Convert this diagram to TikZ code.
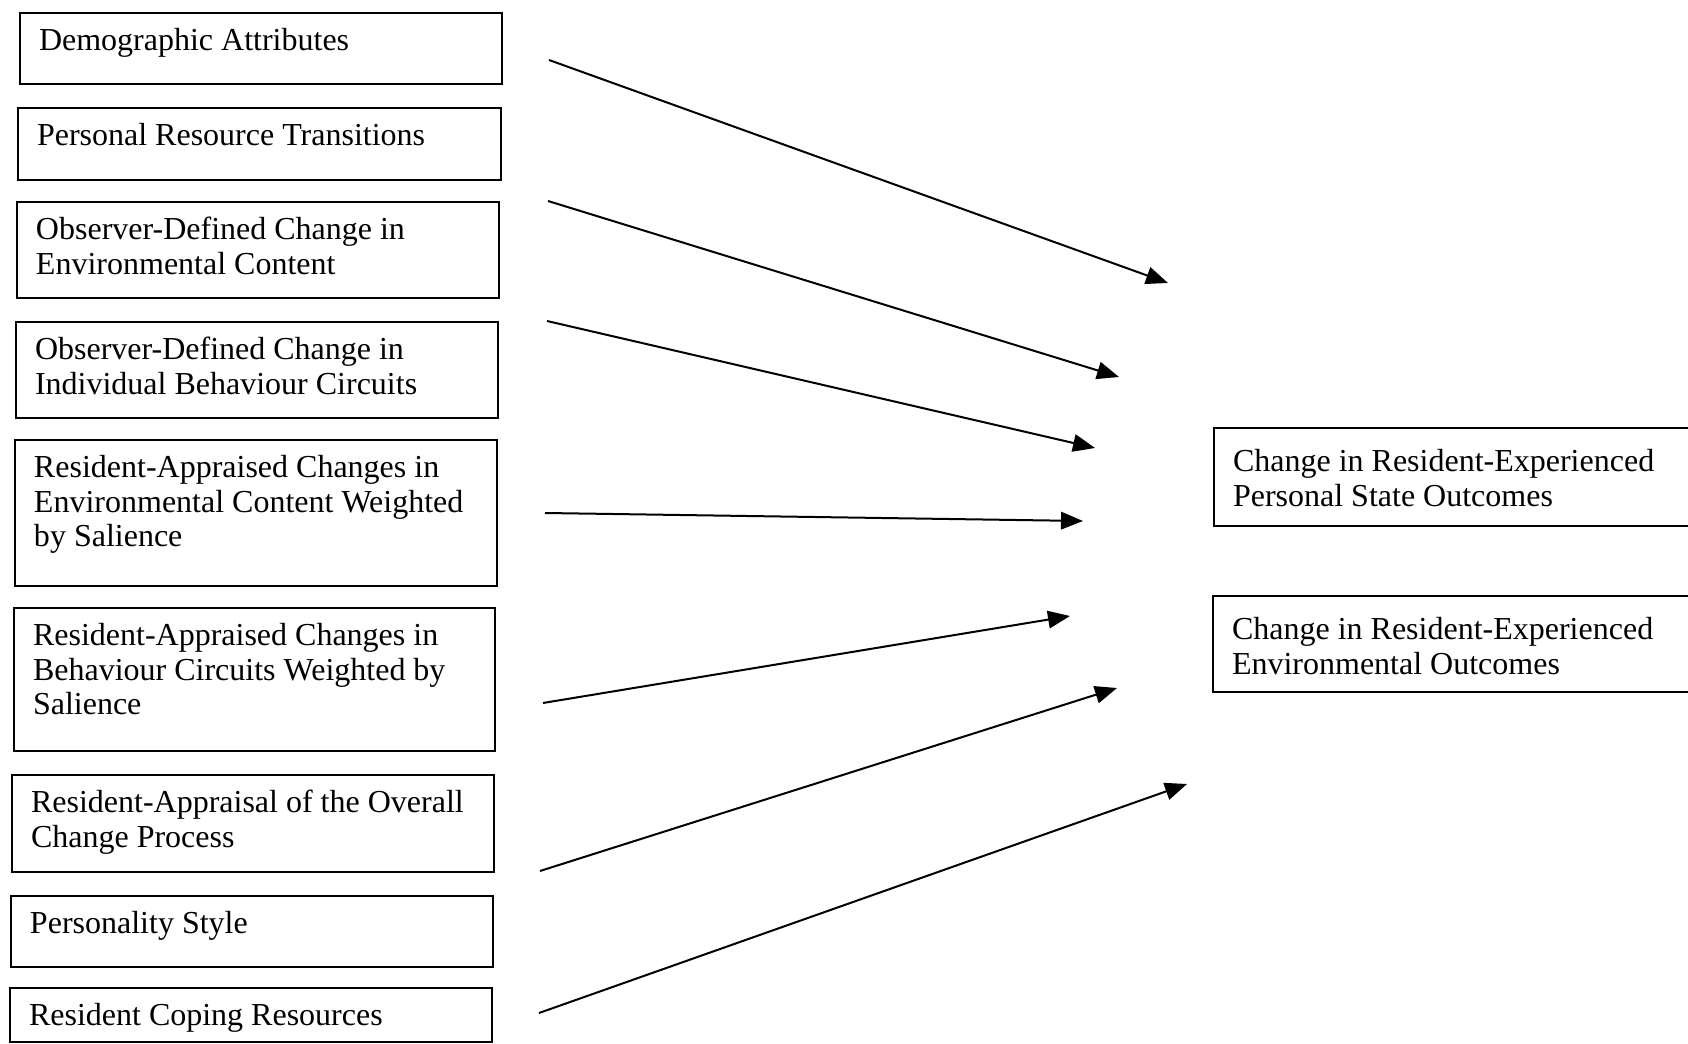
\documentclass[tikz,border=0pt]{standalone}
\usepackage{fontspec}
\setmainfont{Liberation Serif}
\usetikzlibrary{arrows.meta}
\newdimen\pxu \pxu=0.4pt
\newcommand{\cellbox}[3]{\parbox[t][#2\pxu][t]{#1\pxu}{\raggedright\strut #3}}
\tikzset{
  leftbox/.style={draw, line width=0.8pt, anchor=north west, inner xsep=7.6pt, inner ysep=5.5pt,
    font=\fontsize{12.8pt}{13.8pt}\selectfont},
  rightbox/.style={leftbox, inner ysep=7.9pt},
  arr/.style={line width=0.8pt, -{Triangle[length=8.8pt,width=7pt]}}
}
\begin{document}
\begin{tikzpicture}[x=0.4pt, y=-0.4pt]
\useasboundingbox[fill=white] (0,0) rectangle (1688,1044);
\clip (0,0) rectangle (1688,1044);
% left boxes
\node[leftbox] (b1) at (19,12)  {\cellbox{444}{43.5}{Demographic Attributes}};
\node[leftbox] (b2) at (17,107) {\cellbox{445}{44.5}{Personal Resource Transitions}};
\node[leftbox] (b3) at (16,201) {\cellbox{444}{68.5}{Observer-Defined Change in\\Environmental Content}};
\node[leftbox] (b4) at (15,321) {\cellbox{444}{68.5}{Observer-Defined Change in\\Individual Behaviour Circuits}};
\node[leftbox] (b5) at (14,439) {\cellbox{444}{118.5}{Resident-Appraised Changes in\\Environmental Content Weighted\\by Salience}};
\node[leftbox] (b6) at (13,607) {\cellbox{443}{115.5}{Resident-Appraised Changes in\\Behaviour Circuits Weighted by\\Salience}};
\node[leftbox] (b7) at (11,774) {\cellbox{444}{69.5}{Resident-Appraisal of the Overall\\Change Process}};
\node[leftbox] (b8) at (10,895) {\cellbox{444}{43.5}{Personality Style}};
\node[leftbox] (b9) at (9,987)  {\cellbox{444}{26.5}{Resident Coping Resources}};
% right boxes
\node[rightbox] (r1) at (1213,427) {\cellbox{462}{58.5}{Change in Resident-Experienced\\Personal State Outcomes}};
\node[rightbox] (r2) at (1212,595) {\cellbox{462}{56.5}{Change in Resident-Experienced\\Environmental Outcomes}};
% arrow ends
\coordinate (s1) at (549,60);   \coordinate (e1) at (1168,283);
\coordinate (s2) at (548,201);  \coordinate (e2) at (1119,377);
\coordinate (s3) at (547,321);  \coordinate (e3) at (1095,448);
\coordinate (s4) at (545,513);  \coordinate (e4) at (1083,521);
\coordinate (s5) at (543,703);  \coordinate (e5) at (1070,616);
\coordinate (s6) at (540,871);  \coordinate (e6) at (1117,688);
\coordinate (s7) at (539,1013); \coordinate (e7) at (1187,784);
\foreach \i in {1,...,7} { \draw[arr] (s\i) -- (e\i); }
\end{tikzpicture}
\end{document}
